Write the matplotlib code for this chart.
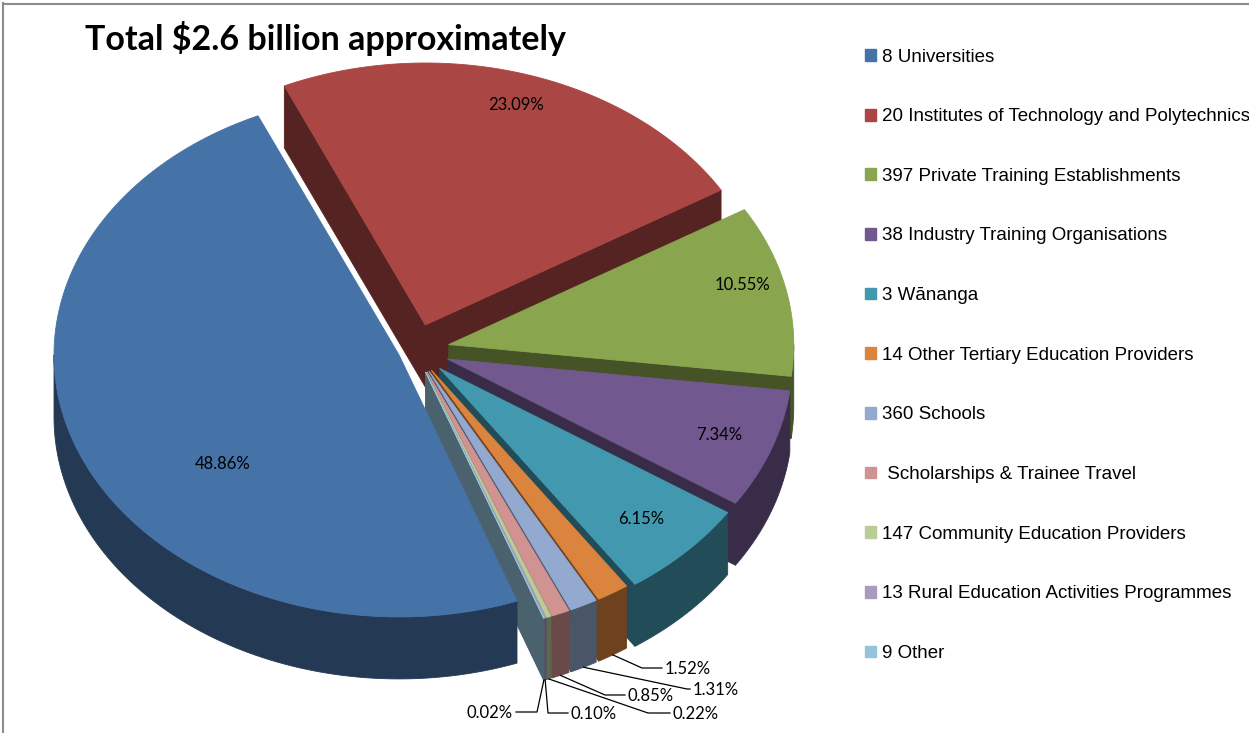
import numpy as np
import matplotlib
matplotlib.use("Agg")
import matplotlib.pyplot as plt
from matplotlib.patches import Patch
from matplotlib.colors import to_rgb

categories = [
    "8 Universities",
    "20 Institutes of Technology and Polytechnics",
    "397 Private Training Establishments",
    "38 Industry Training Organisations",
    "3 Wānanga",
    "14 Other Tertiary Education Providers",
    "360 Schools",
    " Scholarships & Trainee Travel",
    "147 Community Education Providers",
    "13 Rural Education Activities Programmes",
    "9 Other",
]
shares = [48.86, 23.09, 10.55, 7.34, 6.15, 1.52, 1.31, 0.85, 0.22, 0.10, 0.02]
colors = ["#4572A7", "#AA4643", "#89A54E", "#71588F", "#4198AF", "#DB843D",
          "#93A9CF", "#D19392", "#B9CD96", "#A99BBD", "#94C4DC"]
explode = [0.05, 0.1, 0.1, 0.1, 0.1, 0.09, 0.09, 0.09, 0.09, 0.09, 0.09]

# pie geometry in pixels (tilted disc)
cx, cy = 415, 350
rx, ry = 345, 262
depth = 62
start = 160.0  # degrees clockwise from 12 o'clock

W, H = 1249, 733
fig = plt.figure(figsize=(W / 100, H / 100), dpi=100)
ax = fig.add_axes([0, 0, 1, 1])
ax.set_xlim(0, W)
ax.set_ylim(H, 0)
ax.axis("off")


def dark(c, f=0.5):
    return tuple(v * f for v in to_rgb(c))


def rim(t, off, r=1.0):
    t = np.radians(t)
    return (cx + off[0] + r * rx * np.sin(t), cy + off[1] - r * ry * np.cos(t))


def arc(t1, t2, off):
    ts = np.linspace(t1, t2, max(int(abs(t2 - t1) * 2), 2))
    return [rim(t, off) for t in ts]


def poly(pts, color, z):
    xs, ys = zip(*pts)
    ax.fill(xs, ys, color=color, lw=0.6, ec=color, zorder=z)


total = sum(shares)
slices = []
a = start
for i, v in enumerate(shares):
    span = 360 * v / total
    t1, t2 = a, a + span
    tm = (t1 + t2) / 2
    e = explode[i]
    off = (e * rx * np.sin(np.radians(tm)), -e * ry * np.cos(np.radians(tm)))
    front = max(-np.cos(np.radians(t)) for t in np.linspace(t1, t2, 50))
    slices.append(dict(i=i, t1=t1, t2=t2, tm=tm, off=off, front=front))
    a = t2

# back-to-front painting
z = 1
for s in sorted(slices, key=lambda s: s["front"]):
    c = colors[s["i"]]
    dc = dark(c)
    t1, t2, off = s["t1"], s["t2"], s["off"]
    ctop = (cx + off[0], cy + off[1])
    cbot = (ctop[0], ctop[1] + depth)
    # radial walls facing the viewer
    for t, vis in ((t1, np.sin(np.radians(t1)) < 0), (t2, np.sin(np.radians(t2)) > 0)):
        if vis:
            p = rim(t, off)
            poly([ctop, p, (p[0], p[1] + depth), cbot], dc, z)
            z += 1
    # outer wall on the front half
    for lo, hi in ((90, 270), (450, 630)):
        a1, a2 = max(t1, lo), min(t2, hi)
        if a2 > a1:
            top = arc(a1, a2, off)
            bot = [(x, y + depth) for x, y in top[::-1]]
            poly(top + bot, dc, z)
            z += 1
    poly([ctop] + arc(t1, t2, off), c, z)
    z += 1

# percentage labels inside the larger slices
label_r = [0.66, 0.88, 0.88, 0.84, 0.82]
label_shift = [-17, 0, -3, 0, 0]
for s in slices[:5]:
    i = s["i"]
    x, y = rim(s["tm"] + label_shift[i], s["off"], label_r[i])
    ax.text(x, y, f"{shares[i]:.2f}%", ha="center", va="center",
            fontsize=12, family="Lato", color="black", zorder=200)

# leader lines for the thin slices: elbow point and text side
elbows = [(642, 668), (687, 689), (605, 695), (648, 713), (548, 713), (537, 712)]
tails = [20, 3, 20, 22, 20, -21]
for s, (ex, ey), tl in zip(slices[5:], elbows, tails):
    i = s["i"]
    x0, y0 = rim(s["tm"], s["off"])
    y0 += depth
    ax.plot([x0, ex, ex + tl], [y0, ey, ey], color="black", lw=0.9, zorder=150)
    ha = "left" if tl > 0 else "right"
    ax.text(ex + tl + (3 if tl > 0 else -3), ey + 1, f"{shares[i]:.2f}%",
            ha=ha, va="center", fontsize=12, family="Lato", zorder=200)

ax.text(85, 38, "Total $2.6 billion approximately", fontsize=24.5,
        fontweight="bold", family="Lato", va="center", ha="left")

handles = [Patch(facecolor=c, edgecolor=c) for c in colors]
fig.legend(handles, categories, loc="upper left",
           bbox_to_anchor=(865 / W, 1 - 48.5 / H), frameon=False,
           prop={"family": "Liberation Sans", "size": 13.5},
           handlelength=0.6, handleheight=0.6, handletextpad=0.3,
           labelspacing=2.275, borderpad=0, borderaxespad=0)

# thin frame on the top and left edges
fig.add_artist(plt.Line2D([2.5 / W, 2.5 / W], [0, 1 - 3 / H], color="#8c8c8c", lw=1.5))
fig.add_artist(plt.Line2D([2.5 / W, 1], [1 - 3.5 / H, 1 - 3.5 / H], color="#8c8c8c", lw=1.5))

fig.savefig("out.png", dpi=100)
